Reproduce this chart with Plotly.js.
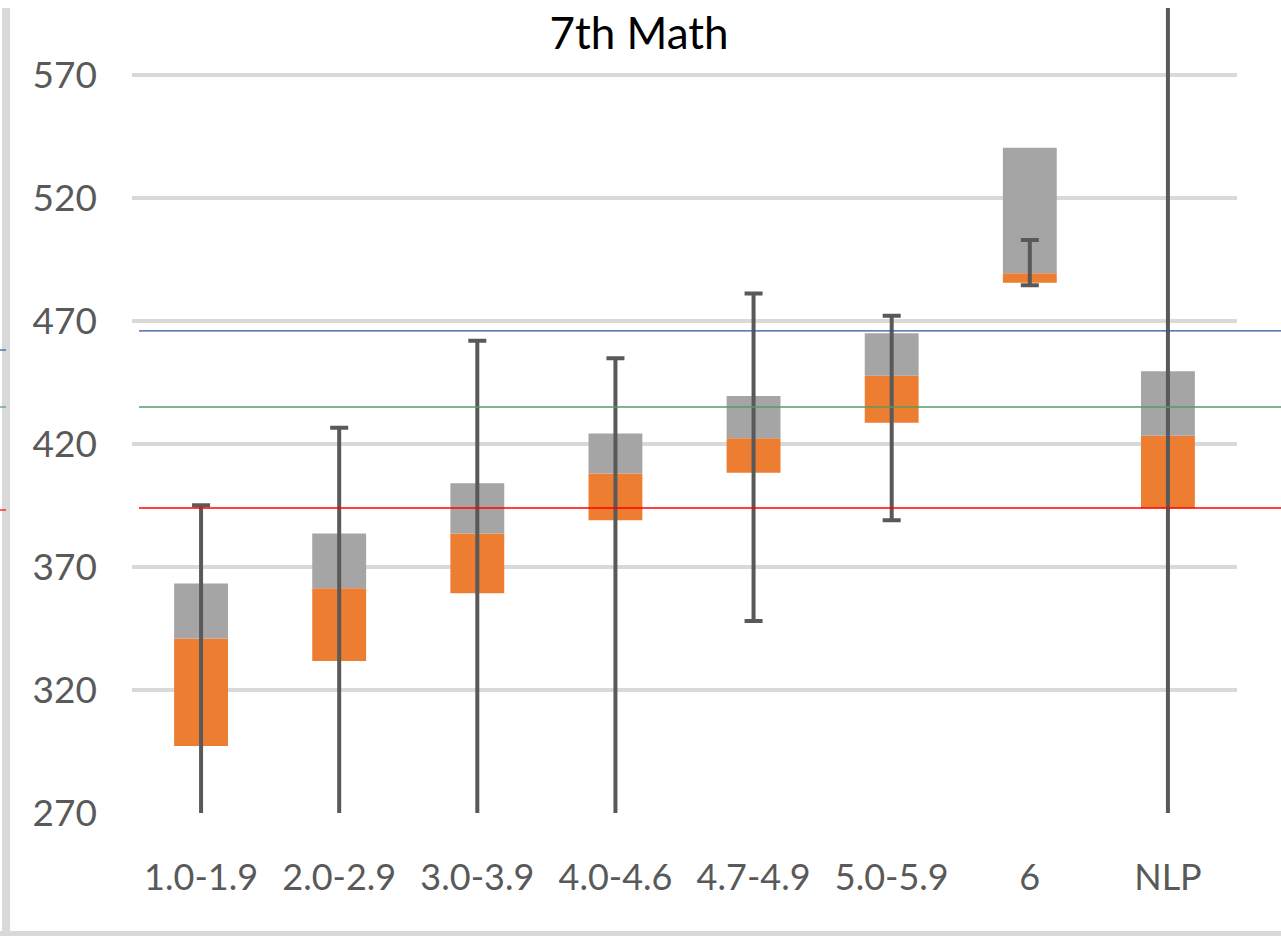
<!DOCTYPE html>
<html>
<head>
<meta charset="utf-8">
<script src="https://cdn.plot.ly/plotly-3.0.1.min.js"></script>
<style>
  html, body { margin: 0; padding: 0; background: #ffffff; }
  #chart { width: 1281px; height: 936px; }
</style>
</head>
<body>
<div id="chart"></div>
<script>
// ---- Data ----
const categories = ["1.0-1.9", "2.0-2.9", "3.0-3.9", "4.0-4.6", "4.7-4.9", "5.0-5.9", "6", "NLP"];
const orangeLow  = [297.2, 331.8, 359.3, 389.0, 408.3, 428.6, 485.5, 393.9];
const orangeHigh = [340.9, 361.4, 383.6, 408.0, 422.3, 447.7, 489.4, 423.3];
const grayHigh   = [363.3, 383.6, 404.0, 424.3, 439.5, 465.0, 540.4, 449.6];
const whiskerLow  = [250, 250, 250, 250, 348.0, 389.0, 484.5, 250];
const whiskerHigh = [395.1, 426.6, 461.9, 454.8, 481.2, 472.1, 502.9, 620];
const refLevels = [466, 435, 394];
const refColors = ["#2f5597", "#5a9a5e", "#ff0000"];
const yTicks = [270, 320, 370, 420, 470, 520, 570];
const chartTitle = "7th Math";

// ---- Traces ----
const orangeTrace = {
  type: "bar",
  x: categories,
  base: orangeLow,
  y: orangeHigh.map((v, i) => v - orangeLow[i]),
  marker: { color: "#ed7d31" },
  hoverinfo: "skip"
};
const grayTrace = {
  type: "bar",
  x: categories,
  base: orangeHigh,
  y: grayHigh.map((v, i) => v - orangeHigh[i]),
  marker: { color: "#a5a5a5" },
  hoverinfo: "skip"
};
const whiskerTrace = {
  type: "scatter",
  mode: "markers",
  x: categories,
  y: whiskerLow,
  marker: { opacity: 0, size: 1 },
  error_y: {
    type: "data",
    symmetric: false,
    array: whiskerHigh.map((v, i) => v - whiskerLow[i]),
    arrayminus: whiskerLow.map(() => 0),
    color: "#595959",
    thickness: 4,
    width: 9
  },
  hoverinfo: "skip"
};

// ---- Shapes ----
const W = 1281, H = 936;
const L = 132, R = 44, T = 8, B = 123;
const pw = W - L - R, ph = H - T - B;
const px2x = px => (px - L) / pw;
const py2y = py => (H - B - py) / ph;

const shapes = [];
// left and bottom frame (light gray)
shapes.push({ type: "rect", xref: "paper", yref: "paper", x0: px2x(2), x1: px2x(10), y0: py2y(936), y1: py2y(8),
  fillcolor: "#d9d9d9", line: { width: 0 }, layer: "below" });
shapes.push({ type: "rect", xref: "paper", yref: "paper", x0: px2x(0), x1: px2x(1281), y0: py2y(936), y1: py2y(931),
  fillcolor: "#d9d9d9", line: { width: 0 }, layer: "below" });
// reference lines
refLevels.forEach((lv, i) => {
  shapes.push({ type: "line", xref: "paper", yref: "y", x0: px2x(139), x1: px2x(1281), y0: lv, y1: lv,
    line: { color: refColors[i], width: i === 0 ? 1.2 : 1.5 }, layer: "above" });
});
// small marks at the left edge
const edgeMarks = [350, 407, 510];
edgeMarks.forEach((py, i) => {
  shapes.push({ type: "line", xref: "paper", yref: "paper", x0: px2x(0), x1: px2x(6), y0: py2y(py), y1: py2y(py),
    line: { color: refColors[i], width: 1.2 }, layer: "above" });
});

const tickFont = "Lato, sans-serif";

const layout = {
  width: W, height: H,
  margin: { l: L, r: R, t: T, b: B, pad: 0 },
  paper_bgcolor: "#ffffff",
  plot_bgcolor: "rgba(0,0,0,0)",
  showlegend: false,
  barmode: "overlay",
  bargap: 0.61,
  title: {
    text: chartTitle,
    font: { family: "Lato, Carlito, sans-serif", size: 44, color: "#000000" },
    x: px2x(639), xref: "paper", xanchor: "center",
    y: py2y(34), yref: "paper", yanchor: "middle"
  },
  xaxis: {
    type: "category",
    showgrid: false,
    zeroline: false,
    showline: false,
    ticks: "",
    ticklabelstandoff: 40,
    tickfont: { family: tickFont, size: 36, color: "#595959" },
    fixedrange: true
  },
  yaxis: {
    range: [270, 597.2],
    tickvals: yTicks,
    ticktext: yTicks.map(String),
    showgrid: true,
    gridcolor: "#d9d9d9",
    gridwidth: 4,
    zeroline: false,
    showline: false,
    ticks: "",
    ticklabelstandoff: 34,
    tickfont: { family: tickFont, size: 37, color: "#595959" },
    fixedrange: true
  },
  shapes: shapes
};

Plotly.newPlot("chart", [orangeTrace, grayTrace, whiskerTrace], layout, { staticPlot: true, displayModeBar: false });
</script>
</body>
</html>
